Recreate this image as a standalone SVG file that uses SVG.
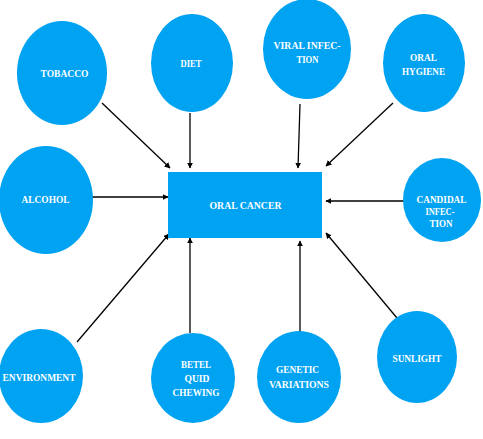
<svg xmlns="http://www.w3.org/2000/svg" width="483" height="439" viewBox="0 0 483 439">
<defs>
<marker id="ah" viewBox="0 0 10 10" refX="9" refY="5" markerWidth="6" markerHeight="6" markerUnits="userSpaceOnUse" orient="auto">
<path d="M0,0 L10,5 L0,10 z" fill="#000"/>
</marker>
<style>
.n{fill:#00A2F2;}
.t{fill:#fff;font-family:"Liberation Serif","Times New Roman",serif;font-weight:bold;font-size:11px;text-anchor:middle;}
.c{stroke:#000;stroke-width:1.3;fill:none;marker-end:url(#ah);}
</style>
</defs>
<rect width="483" height="439" fill="#fff"/>
<g id="connectors">
<line class="c" x1="102" y1="103" x2="170" y2="168"/>
<line class="c" x1="190" y1="113" x2="190" y2="168"/>
<line class="c" x1="300" y1="104" x2="298" y2="168"/>
<line class="c" x1="393" y1="103" x2="326" y2="166"/>
<line class="c" x1="91" y1="197" x2="168" y2="197"/>
<line class="c" x1="413" y1="201" x2="326" y2="201"/>
<line class="c" x1="77" y1="342" x2="169" y2="234"/>
<line class="c" x1="190" y1="333" x2="190" y2="238"/>
<line class="c" x1="300" y1="337" x2="300" y2="241"/>
<line class="c" x1="402" y1="324" x2="326" y2="233"/>
</g>
<g id="oral-cancer">
<rect class="n" x="168" y="172" width="154" height="66"/>
<text class="t" x="245.5" y="209" textLength="72" lengthAdjust="spacingAndGlyphs">ORAL CANCER</text>
</g>
<g id="tobacco">
<ellipse class="n" cx="62" cy="73" rx="45" ry="52"/>
<text class="t" x="64.5" y="77" textLength="48" lengthAdjust="spacingAndGlyphs">TOBACCO</text>
</g>
<g id="diet">
<ellipse class="n" cx="192" cy="63" rx="41" ry="49"/>
<text class="t" x="191" y="67" textLength="21" lengthAdjust="spacingAndGlyphs">DIET</text>
</g>
<g id="viral-infection">
<ellipse class="n" cx="307" cy="49" rx="44" ry="50"/>
<text class="t" x="307" y="49" textLength="67" lengthAdjust="spacingAndGlyphs">VIRAL INFEC-</text>
<text class="t" x="307.5" y="63" textLength="22" lengthAdjust="spacingAndGlyphs">TION</text>
</g>
<g id="oral-hygiene">
<ellipse class="n" cx="424" cy="63" rx="41" ry="49"/>
<text class="t" x="423.5" y="61" textLength="27" lengthAdjust="spacingAndGlyphs">ORAL</text>
<text class="t" x="423.5" y="74.5" textLength="43" lengthAdjust="spacingAndGlyphs">HYGIENE</text>
</g>
<g id="alcohol">
<ellipse class="n" cx="46" cy="200" rx="47" ry="54"/>
<text class="t" x="45.5" y="203" textLength="48" lengthAdjust="spacingAndGlyphs">ALCOHOL</text>
</g>
<g id="candidal-infection">
<ellipse class="n" cx="442" cy="200" rx="39" ry="42"/>
<text class="t" x="441.5" y="202.5" textLength="50" lengthAdjust="spacingAndGlyphs">CANDIDAL</text>
<text class="t" x="440" y="215" textLength="29" lengthAdjust="spacingAndGlyphs">INFEC-</text>
<text class="t" x="441" y="227" textLength="23" lengthAdjust="spacingAndGlyphs">TION</text>
</g>
<g id="environment">
<ellipse class="n" cx="41" cy="376" rx="42" ry="47"/>
<text class="t" x="39" y="381" textLength="73" lengthAdjust="spacingAndGlyphs">ENVIRONMENT</text>
</g>
<g id="betel-quid-chewing">
<ellipse class="n" cx="193" cy="378" rx="42" ry="45"/>
<text class="t" x="196" y="368" textLength="30" lengthAdjust="spacingAndGlyphs">BETEL</text>
<text class="t" x="197" y="381.5" textLength="25" lengthAdjust="spacingAndGlyphs">QUID</text>
<text class="t" x="196" y="395.5" textLength="47" lengthAdjust="spacingAndGlyphs">CHEWING</text>
</g>
<g id="genetic-variations">
<ellipse class="n" cx="299" cy="377" rx="42" ry="46"/>
<text class="t" x="297.5" y="373" textLength="43" lengthAdjust="spacingAndGlyphs">GENETIC</text>
<text class="t" x="299" y="388" textLength="60" lengthAdjust="spacingAndGlyphs">VARIATIONS</text>
</g>
<g id="sunlight">
<ellipse class="n" cx="417" cy="357" rx="40" ry="46"/>
<text class="t" x="417" y="362" textLength="49" lengthAdjust="spacingAndGlyphs">SUNLIGHT</text>
</g>
</svg>
